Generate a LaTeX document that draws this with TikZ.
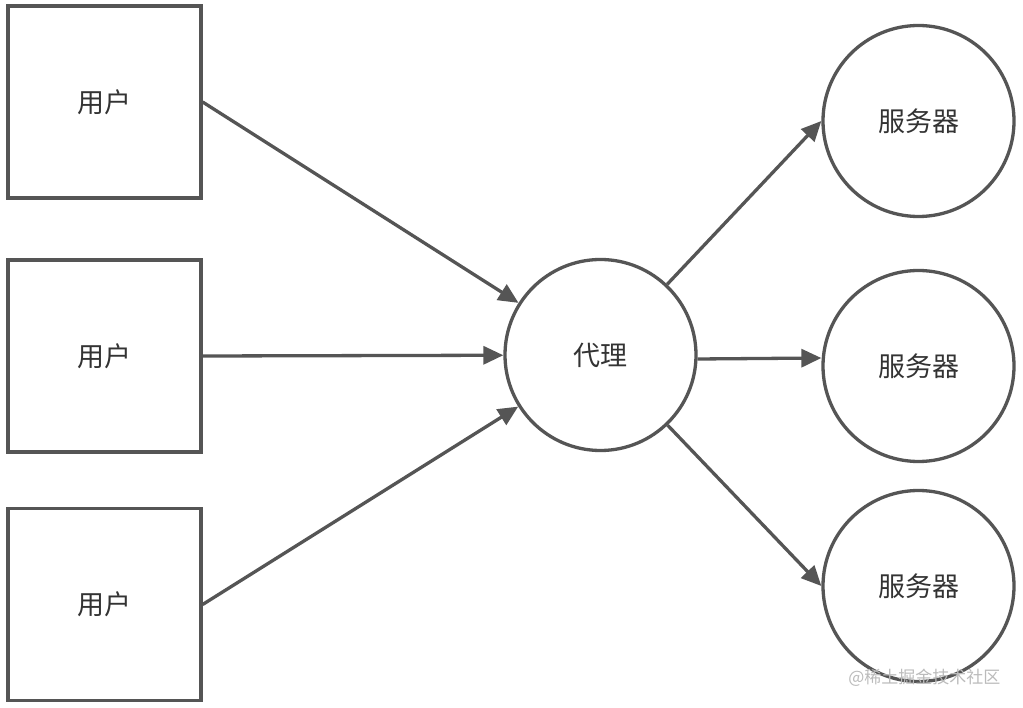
\documentclass[tikz,border=0pt]{standalone}
\usepackage{fontspec}
\newfontfamily\cjk{Noto Sans CJK SC}
\usetikzlibrary{arrows.meta}
\definecolor{lc}{HTML}{555555}
\definecolor{tc}{HTML}{333333}
\definecolor{wm}{HTML}{BBBBBB}
\begin{document}
\begin{tikzpicture}[x=1pt,y=-1pt,
  box/.style={draw=lc,line width=3.3pt,minimum width=193pt,minimum height=192pt,inner sep=0pt,font=\cjk\fontsize{27}{32}\selectfont,text=tc},
  circ/.style={draw=lc,line width=3.3pt,circle,minimum size=191pt,inner sep=0pt,font=\cjk\fontsize{27}{32}\selectfont,text=tc},
  conn/.style={draw=lc,line width=3.3pt,-{Triangle[length=20pt,width=18pt]}}]
\useasboundingbox (0,0) rectangle (1023,708);
\fill[white] (0,0) rectangle (1023,708);
\node[box] (u1) at (104.5,102) {用户};
\node[box] (u2) at (104.5,356) {用户};
\node[box] (u3) at (104.5,604.5) {用户};
\node[circ] (p) at (600.5,355) {代理};
\node[circ] (s1) at (918.5,121) {服务器};
\node[circ] (s2) at (918.5,366) {服务器};
\node[circ] (s3) at (918.5,586) {服务器};
\draw[conn] (u1.east) -- (p);
\draw[conn] (u2.east) -- (p);
\draw[conn] (u3.east) -- (p);
\draw[conn] (p) -- (s1.west);
\draw[conn] ([yshift=-4pt]p.east) -- ([yshift=8pt]s2.west);
\draw[conn] (p) -- (s3.west);
\node[text=wm,font=\cjk\fontsize{17}{20}\selectfont,anchor=east] (w) at (1004,678) {@稀土掘金技术社区};
\end{tikzpicture}
\end{document}
